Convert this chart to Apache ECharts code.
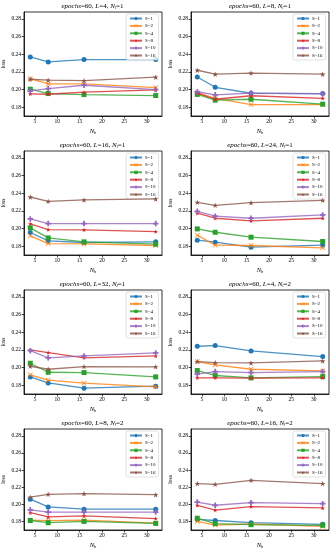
<!DOCTYPE html>
<html>
<head>
<meta charset="utf-8">
<script src="https://cdn.jsdelivr.net/npm/echarts@6/dist/echarts.min.js"></script>
<style>html,body{margin:0;padding:0;background:#fff}#c{width:334px;height:550px}</style>
</head>
<body>
<div id="c"></div>
<script>
const xValues = [4, 8, 16, 32];
const seriesNames = ['S=1', 'S=2', 'S=4', 'S=8', 'S=10', 'S=16'];
const xTicks = [5, 10, 15, 20, 25, 30];
const yTicks = [0.18, 0.20, 0.22, 0.24, 0.26, 0.28];
const panelL = ['4', '8', '16', '24', '32', '4', '8', '16'];
const panelN = ['1', '1', '1', '1', '1', '2', '2', '2'];

// each row: S=1, S=2, S=4, S=8, S=10, S=16 ; values at N_b = 4, 8, 16, 32
const panel1 = [
  [0.2370, 0.2313, 0.2340, 0.2340],
  [0.2125, 0.2064, 0.2064, 0.2022],
  [0.2004, 0.1955, 0.1943, 0.1932],
  [0.1951, 0.1947, 0.1970, 0.1996],
  [0.1985, 0.2011, 0.2049, 0.2000],
  [0.2117, 0.2106, 0.2102, 0.2140]
];
const panel2 = [
  [0.2143, 0.2026, 0.1958, 0.1955],
  [0.1965, 0.1900, 0.1830, 0.1830],
  [0.1945, 0.1880, 0.1890, 0.1834],
  [0.1960, 0.1890, 0.1930, 0.1900],
  [0.1975, 0.1940, 0.1960, 0.1950],
  [0.2219, 0.2174, 0.2187, 0.2174]
];
const panel3 = [
  [0.1955, 0.1860, 0.1842, 0.1849],
  [0.1917, 0.1830, 0.1826, 0.1808],
  [0.2008, 0.1894, 0.1849, 0.1823],
  [0.2053, 0.1989, 0.1985, 0.1966],
  [0.2109, 0.2057, 0.2057, 0.2057],
  [0.2358, 0.2309, 0.2325, 0.2336]
];
const panel4 = [
  [0.1868, 0.1845, 0.1789, 0.1811],
  [0.1925, 0.1811, 0.1808, 0.1781],
  [0.1996, 0.1958, 0.1902, 0.1853],
  [0.2174, 0.2117, 0.2087, 0.2117],
  [0.2196, 0.2140, 0.2117, 0.2155],
  [0.2298, 0.2264, 0.2294, 0.2320]
];
const panel5 = [
  [0.1894, 0.1826, 0.1766, 0.1789],
  [0.1917, 0.1857, 0.1823, 0.1781],
  [0.2049, 0.1947, 0.1943, 0.1894],
  [0.2200, 0.2170, 0.2110, 0.2132],
  [0.2192, 0.2110, 0.2132, 0.2166],
  [0.2015, 0.1981, 0.2011, 0.2008]
];
const panel6 = [
  [0.2242, 0.2249, 0.2189, 0.2125],
  [0.2068, 0.2030, 0.1981, 0.1962],
  [0.1966, 0.1910, 0.1883, 0.1898],
  [0.1883, 0.1883, 0.1879, 0.1883],
  [0.1925, 0.1955, 0.1943, 0.1955],
  [0.2068, 0.2057, 0.2053, 0.2075]
];
const panel7 = [
  [0.2060, 0.1970, 0.1943, 0.1943],
  [0.1815, 0.1810, 0.1815, 0.1780],
  [0.1811, 0.1785, 0.1800, 0.1777],
  [0.1902, 0.1853, 0.1864, 0.1834],
  [0.1936, 0.1909, 0.1909, 0.1909],
  [0.2083, 0.2117, 0.2125, 0.2113]
];
const panel8 = [
  [0.1823, 0.1811, 0.1785, 0.1766],
  [0.1800, 0.1758, 0.1770, 0.1743],
  [0.1838, 0.1774, 0.1762, 0.1755],
  [0.1989, 0.1932, 0.1974, 0.1958],
  [0.2026, 0.1989, 0.2019, 0.2008],
  [0.2242, 0.2234, 0.2280, 0.2242]
];
const panels = [panel1, panel2, panel3, panel4, panel5, panel6, panel7, panel8];

const colors = ['#1f77b4', '#ff7f0e', '#2ca02c', '#d62728', '#9467bd', '#8c564b'];
const starPath = 'path://M5,0 L6.18,3.45 L9.76,3.45 L6.9,5.6 L7.94,9.05 L5,7 L2.06,9.05 L3.1,5.6 L0.24,3.45 L3.82,3.45 Z';
const symbols = [
  'circle',
  'path://M1,0 L5,4 L9,0 L10,1 L6,5 L10,9 L9,10 L5,6 L1,10 L0,9 L4,5 L0,1 Z',
  'rect',
  starPath,
  'path://M3.4,0H6.6V3.4H10V6.6H6.6V10H3.4V6.6H0V3.4H3.4Z',
  starPath
];
const symbolSizes = [5, 5, 5, 4.5, 5.5, 5.5];

const FONT = 'Liberation Serif';
const colLeft = [23, 191];
const colWidth = [139, 138];
const rowTop = [12, 151, 290, 429];
const gridH = 104;

const grids = [], xAxes = [], yAxes = [], series = [], legends = [], graphics = [];
for (let p = 0; p < 8; p++) {
  const col = p % 2, row = Math.floor(p / 2);
  const left = colLeft[col], top = rowTop[row], w = colWidth[col];
  grids.push({left: left, top: top, width: w, height: gridH, show: true,
    borderColor: '#000', borderWidth: 0.8, backgroundColor: 'transparent'});
  xAxes.push({type: 'value', gridIndex: p, min: 2.6, max: 33.4,
    name: '{i|N}{s|b}', nameLocation: 'middle', nameGap: 11,
    nameTextStyle: {rich: {i: {fontFamily: FONT, fontStyle: 'italic', fontSize: 6.5, color: '#000'},
      s: {fontFamily: FONT, fontStyle: 'italic', fontSize: 4.5, color: '#000', verticalAlign: 'bottom', padding: [3, 0, 0, 0]}}},
    axisLine: {show: true, onZero: false, lineStyle: {color: '#000', width: 0.8}},
    axisTick: {show: true, length: 2.5, lineStyle: {color: '#000', width: 0.7}, customValues: xTicks},
    axisLabel: {fontFamily: FONT, fontSize: 5.5, color: '#000', margin: 3, customValues: xTicks},
    splitLine: {show: false}});
  yAxes.push({type: 'value', gridIndex: p, min: 0.17, max: 0.288,
    name: 'loss', nameLocation: 'middle', nameGap: 17, nameRotate: 90,
    nameTextStyle: {fontFamily: FONT, fontSize: 5.5, color: '#000'},
    axisLine: {show: true, onZero: false, lineStyle: {color: '#000', width: 0.8}},
    axisTick: {show: true, length: 2.5, lineStyle: {color: '#000', width: 0.7}, customValues: yTicks},
    axisLabel: {fontFamily: FONT, fontSize: 5.5, color: '#000', margin: 3, customValues: yTicks,
      formatter: v => v.toFixed(2)},
    splitLine: {show: false}});
  for (let s = 0; s < 6; s++) {
    series.push({type: 'line', name: seriesNames[s], xAxisIndex: p, yAxisIndex: p,
      data: xValues.map((x, i) => [x, panels[p][s][i]]),
      symbol: symbols[s], symbolSize: symbolSizes[s], showAllSymbol: true,
      itemStyle: {color: colors[s]},
      lineStyle: {color: colors[s], width: 1.3, opacity: 0.8},
      animation: false, z: 2 + s});
  }
  legends.push({data: seriesNames, orient: 'vertical',
    left: left + w - 36, top: top + 2, width: 34,
    itemWidth: 12, itemHeight: 4, itemGap: 2.4,
    padding: [2, 3, 2, 3], borderColor: '#ccc', borderWidth: 0.6, borderRadius: 2,
    backgroundColor: 'rgba(255,255,255,0.8)',
    textStyle: {fontFamily: FONT, fontSize: 5, color: '#000', padding: [0, 0, 0, -2]},
    selectedMode: false});
  graphics.push({type: 'text', x: left + w / 2, y: top - 6,
    style: {text: '{i|epochs}=60, {i|L}=' + panelL[p] + ', {i|N}{s|l}=' + panelN[p],
      align: 'center', verticalAlign: 'middle', fontFamily: FONT, fontSize: 7, fill: '#000',
      rich: {i: {fontFamily: FONT, fontStyle: 'italic', fontSize: 7},
        s: {fontFamily: FONT, fontStyle: 'italic', fontSize: 4.5, verticalAlign: 'bottom', padding: [3, 0, 0, 0]}}}});
}

const chart = echarts.init(document.getElementById('c'), null, {renderer: 'canvas'});
chart.setOption({animation: false, grid: grids, xAxis: xAxes, yAxis: yAxes,
  series: series, legend: legends, graphic: graphics});
</script>
</body>
</html>
